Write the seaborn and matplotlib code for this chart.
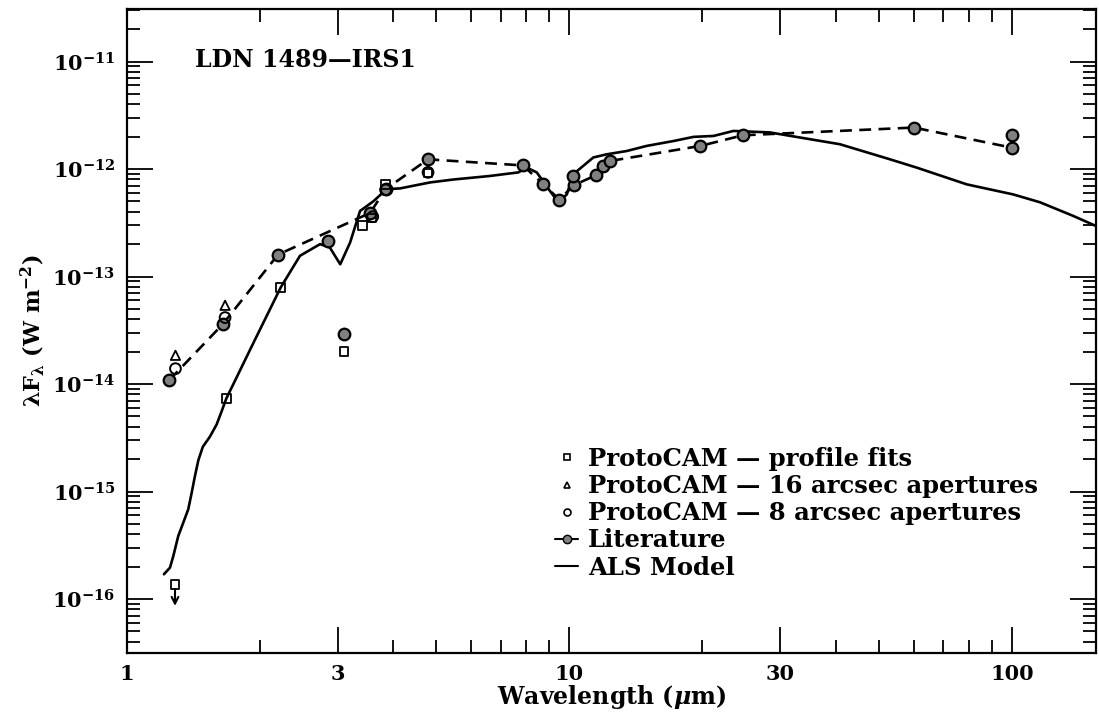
import numpy as np
import pandas as pd
import matplotlib
matplotlib.use("Agg")
import matplotlib.pyplot as plt
import seaborn as sns
from matplotlib.lines import Line2D
from matplotlib.ticker import FixedLocator, FixedFormatter, NullFormatter

# ---------------- data ----------------
model_x = [1.215, 1.254, 1.276, 1.309, 1.344, 1.379, 1.404, 1.428, 1.453, 1.487, 1.544,
           1.598, 1.641, 1.68, 1.934, 2.23, 2.466, 2.737, 2.88, 3.04, 3.2, 3.37, 3.61,
           3.87, 4.15, 4.85, 5.5, 6.6, 7.68, 8.02, 8.45, 9.05, 9.46, 9.88, 10.22, 11.34,
           12.16, 13.49, 14.97, 17.2, 19.1, 21.2, 23.5, 28.4, 31.0, 40.9, 53.1, 61.0,
           79.1, 100.8, 115.9, 137.7, 155.0]
model_y = [1.70e-16, 1.96e-16, 2.52e-16, 3.86e-16, 5.15e-16, 6.85e-16, 9.8e-16, 1.40e-15,
           1.95e-15, 2.6e-15, 3.25e-15, 4.2e-15, 5.6e-15, 7.3e-15, 2.4e-14, 7.9e-14,
           1.56e-13, 2.0e-13, 1.86e-13, 1.3e-13, 2.07e-13, 4.07e-13, 5.0e-13, 6.5e-13,
           6.6e-13, 7.5e-13, 8.0e-13, 8.6e-13, 9.3e-13, 1.03e-12, 9.3e-13, 6.25e-13,
           4.9e-13, 5.8e-13, 8.95e-13, 1.28e-12, 1.37e-12, 1.47e-12, 1.64e-12, 1.82e-12,
           1.99e-12, 2.03e-12, 2.26e-12, 2.19e-12, 2.06e-12, 1.70e-12, 1.23e-12, 1.03e-12,
           7.2e-13, 5.8e-13, 4.9e-13, 3.66e-13, 2.95e-13]

lit_line_x = [1.25, 1.65, 2.2, 3.55, 3.85, 4.8, 7.86, 8.72, 9.5, 10.27, 11.5, 11.95, 12.4,
              19.8, 24.7, 60.1, 100.0]
lit_line_y = [1.09e-14, 3.6e-14, 1.6e-13, 3.9e-13, 6.5e-13, 1.23e-12, 1.08e-12, 7.3e-13,
              5.2e-13, 7.1e-13, 8.75e-13, 1.07e-12, 1.19e-12, 1.64e-12, 2.06e-12, 2.43e-12,
              1.58e-12]
lit_extra_x = [2.86, 3.10, 10.2, 100.0]
lit_extra_y = [2.12e-13, 2.9e-14, 8.6e-13, 2.06e-12]

circ8_x = [1.29, 1.67, 3.6, 3.85, 4.8]
circ8_y = [1.39e-14, 4.15e-14, 3.6e-13, 6.4e-13, 9.3e-13]

tri16_x = [1.29, 1.67]
tri16_y = [1.85e-14, 5.4e-14]

sq_x = [1.68, 2.23, 3.10, 3.42, 3.58, 3.85, 4.8]
sq_y = [7.3e-15, 7.9e-14, 2.0e-14, 3.0e-13, 3.5e-13, 7.2e-13, 9.2e-13]

ulim_x = [1.287]
ulim_y = [1.37e-16]

x_major = [1, 3, 10, 30, 100]
x_major_labels = ["1", "3", "10", "30", "100"]
y_major = [1e-16, 1e-15, 1e-14, 1e-13, 1e-12, 1e-11]
y_major_labels = [r"$\mathbf{10^{-16}}$", r"$\mathbf{10^{-15}}$", r"$\mathbf{10^{-14}}$",
                  r"$\mathbf{10^{-13}}$", r"$\mathbf{10^{-12}}$", r"$\mathbf{10^{-11}}$"]

legend_labels = ["ProtoCAM \u2014 profile fits", "ProtoCAM \u2014 16 arcsec apertures",
                 "ProtoCAM \u2014 8 arcsec apertures", "Literature", "ALS Model"]

# ---------------- style ----------------
sns.set_style("ticks")
plt.rcParams["font.family"] = ["DejaVu Serif"]
plt.rcParams["font.weight"] = "bold"
plt.rcParams["text.color"] = "black"
plt.rcParams["axes.labelcolor"] = "black"
plt.rcParams["xtick.color"] = "black"
plt.rcParams["ytick.color"] = "black"
plt.rcParams["axes.edgecolor"] = "black"
plt.rcParams["mathtext.fontset"] = "custom"
plt.rcParams["mathtext.rm"] = "DejaVu Serif:bold"
plt.rcParams["mathtext.bf"] = "DejaVu Serif:bold"
plt.rcParams["mathtext.it"] = "DejaVu Serif:italic:bold"
plt.rcParams["mathtext.default"] = "bf"

fig = plt.figure(figsize=(10.99, 7.22), dpi=100)
ax = fig.add_axes([126.5 / 1099, 1 - 653 / 722, (1096 - 126.5) / 1099, (653 - 8.5) / 722])
ax.set_xscale("log")
ax.set_yscale("log")

lw = 1.9
df_model = pd.DataFrame({"x": model_x, "y": model_y})
sns.lineplot(data=df_model, x="x", y="y", ax=ax, color="black", lw=lw, sort=False,
             estimator=None, zorder=2)

df_lit = pd.DataFrame({"x": lit_line_x, "y": lit_line_y})
sns.lineplot(data=df_lit, x="x", y="y", ax=ax, color="black", lw=lw, sort=False,
             estimator=None, zorder=3)
ax.lines[-1].set_dashes((4.5, 2.8))
lit_all_x = lit_line_x + lit_extra_x
lit_all_y = lit_line_y + lit_extra_y
sns.scatterplot(x=lit_all_x, y=lit_all_y, ax=ax, marker="o", s=70, color="0.5",
                edgecolor="black", linewidth=1.6, zorder=5)
sns.scatterplot(x=circ8_x, y=circ8_y, ax=ax, marker="o", s=60, facecolor="none",
                edgecolor="black", linewidth=1.4, zorder=6)
sns.scatterplot(x=tri16_x, y=tri16_y, ax=ax, marker="^", s=45, facecolor="none",
                edgecolor="black", linewidth=1.3, zorder=6)
sns.scatterplot(x=sq_x + ulim_x, y=sq_y + ulim_y, ax=ax, marker="s", s=40, facecolor="none",
                edgecolor="black", linewidth=1.3, zorder=6)
for xu, yu in zip(ulim_x, ulim_y):
    ax.annotate("", xy=(xu, yu * 0.63), xytext=(xu, yu * 0.9),
                arrowprops=dict(arrowstyle="->", lw=1.5, color="black",
                                shrinkA=0, shrinkB=0, mutation_scale=12))

ax.set_xlim(1, 155)
ax.set_ylim(10 ** -16.502, 10 ** -10.507)

ax.xaxis.set_major_locator(FixedLocator(x_major))
ax.xaxis.set_major_formatter(FixedFormatter(x_major_labels))
x_minor = [m * d for d in (1, 10, 100) for m in (2, 4, 5, 6, 7, 8, 9)]
ax.xaxis.set_minor_locator(FixedLocator(x_minor))
ax.xaxis.set_minor_formatter(NullFormatter())
ax.yaxis.set_major_locator(FixedLocator(y_major))
ax.yaxis.set_major_formatter(FixedFormatter(y_major_labels))
y_minor = [m * 10.0 ** e for e in range(-17, -10) for m in range(2, 10)]
ax.yaxis.set_minor_locator(FixedLocator(y_minor))
ax.yaxis.set_minor_formatter(NullFormatter())

ax.tick_params(which="both", direction="in", top=True, right=True, width=1.3, color="black")
ax.tick_params(which="major", length=19, labelsize=15, pad=8)
ax.tick_params(which="minor", length=9.5)
for s in ax.spines.values():
    s.set_linewidth(1.6)
    s.set_color("black")
for lab in ax.get_xticklabels() + ax.get_yticklabels():
    lab.set_fontweight("bold")

ax.set_xlabel(r"Wavelength ($\mathit{\mu}$m)", fontsize=17, fontweight="bold", labelpad=-1)
ax.set_ylabel(r"$\lambda$F$_\lambda$ (W m$^{-2}$)", fontsize=16, fontweight="bold", labelpad=4)

ax.text(0.0707, 0.92, "LDN 1489\u2014IRS1", transform=ax.transAxes, ha="left", va="center",
        fontsize=17, fontweight="bold")

handles = [
    Line2D([], [], marker="s", ls="none", mfc="white", mec="black", ms=5, mew=1.2),
    Line2D([], [], marker="^", ls="none", mfc="white", mec="black", ms=5, mew=1.2),
    Line2D([], [], marker="o", ls="none", mfc="white", mec="black", ms=5, mew=1.2),
    Line2D([], [], marker="o", ls="-", color="black", mfc="0.5", mec="black", ms=6, lw=1.5),
    Line2D([], [], ls="-", color="black", lw=1.5),
]
leg = ax.legend(handles, legend_labels, loc="upper left", bbox_to_anchor=(555 / 1099, 1 - 447 / 722),
                bbox_transform=fig.transFigure, frameon=False, borderpad=0, borderaxespad=0,
                handlelength=0.95, handletextpad=0.4, labelspacing=0.13,
                prop={"size": 17.5, "weight": "bold", "family": "DejaVu Serif"})

fig.savefig("out.png", dpi=100)
